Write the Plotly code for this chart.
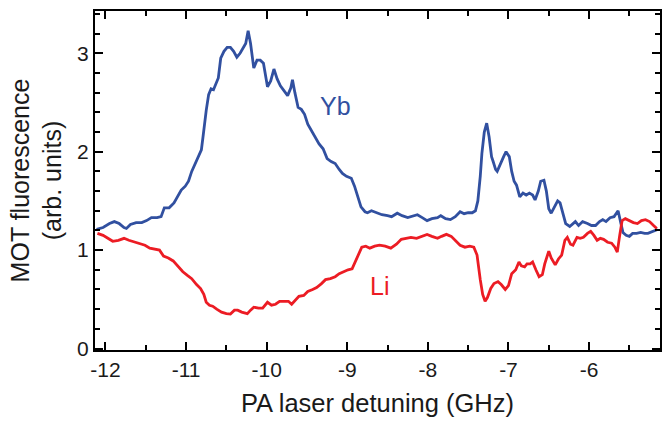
import plotly.graph_objects as go

# ---- data ----
yb_x = [-12.11, -12.03, -11.95, -11.89, -11.83, -11.77, -11.74, -11.69, -11.62, -11.55,
        -11.49, -11.43, -11.36, -11.31, -11.27, -11.21, -11.15, -11.10, -11.06, -11.01,
        -10.97, -10.93, -10.89, -10.85, -10.81, -10.79, -10.77, -10.75, -10.72, -10.69,
        -10.66, -10.63, -10.60, -10.57, -10.53, -10.49, -10.45, -10.41, -10.37, -10.33,
        -10.29, -10.26, -10.23, -10.20, -10.16, -10.12, -10.08, -10.04, -9.99, -9.95,
        -9.91, -9.87, -9.83, -9.79, -9.74, -9.70, -9.68, -9.65, -9.61, -9.57,
        -9.53, -9.49, -9.45, -9.40, -9.35, -9.30, -9.25, -9.20, -9.15, -9.10,
        -9.06, -9.01, -8.95, -8.91, -8.87, -8.83, -8.78, -8.75, -8.70, -8.64,
        -8.57, -8.50, -8.45, -8.38, -8.32, -8.25, -8.18, -8.13, -8.07, -8.01,
        -7.95, -7.88, -7.84, -7.78, -7.72, -7.66, -7.60, -7.55, -7.50, -7.45,
        -7.41, -7.38, -7.35, -7.33, -7.30, -7.27, -7.24, -7.21, -7.19, -7.16,
        -7.14, -7.10, -7.06, -7.03, -6.99, -6.96, -6.93, -6.90, -6.86, -6.82,
        -6.78, -6.74, -6.70, -6.67, -6.63, -6.60, -6.56, -6.53, -6.50, -6.47,
        -6.43, -6.39, -6.36, -6.33, -6.29, -6.24, -6.20, -6.17, -6.13, -6.08,
        -6.02, -5.97, -5.92, -5.87, -5.83, -5.79, -5.74, -5.69, -5.64, -5.61,
        -5.58, -5.54, -5.50, -5.46, -5.41, -5.36, -5.31, -5.27, -5.22, -5.15]
yb_y = [1.21, 1.23, 1.27, 1.29, 1.27, 1.23, 1.22, 1.26, 1.28, 1.28,
        1.30, 1.33, 1.33, 1.34, 1.43, 1.43, 1.48, 1.55, 1.61, 1.65,
        1.70, 1.80, 1.87, 1.95, 2.02, 2.15, 2.30, 2.42, 2.58, 2.64,
        2.63, 2.70, 2.75, 2.95, 3.02, 3.06, 3.06, 3.02, 2.96, 3.00,
        3.06, 3.10, 3.23, 3.10, 2.85, 2.93, 2.93, 2.90, 2.66, 2.72,
        2.84, 2.74, 2.67, 2.63, 2.57, 2.65, 2.73, 2.60, 2.45, 2.43,
        2.38, 2.28, 2.22, 2.15, 2.08, 2.03, 1.93, 1.90, 1.88, 1.82,
        1.78, 1.75, 1.73, 1.65, 1.55, 1.44, 1.39, 1.38, 1.40, 1.38,
        1.36, 1.35, 1.34, 1.375, 1.35, 1.33, 1.35, 1.36, 1.33, 1.30,
        1.32, 1.33, 1.35, 1.32, 1.31, 1.34, 1.39, 1.37, 1.38, 1.38,
        1.40, 1.50, 1.75, 1.98, 2.20, 2.29, 2.15, 1.95, 1.90, 1.82,
        1.80, 1.88, 1.95, 2.00, 1.95, 1.80, 1.70, 1.66, 1.54, 1.58,
        1.56, 1.58, 1.56, 1.51, 1.60, 1.70, 1.71, 1.60, 1.42, 1.375,
        1.44, 1.50, 1.48, 1.38, 1.27, 1.24, 1.27, 1.29, 1.25, 1.29,
        1.27, 1.25, 1.25, 1.29, 1.31, 1.29, 1.33, 1.34, 1.40, 1.30,
        1.18, 1.15, 1.14, 1.17, 1.17, 1.18, 1.17, 1.17, 1.19, 1.21]

li_x = [-12.10, -12.03, -11.97, -11.91, -11.84, -11.77, -11.71, -11.64, -11.58, -11.51,
        -11.45, -11.38, -11.33, -11.28, -11.22, -11.16, -11.10, -11.04, -10.98, -10.93,
        -10.87, -10.82, -10.78, -10.75, -10.71, -10.67, -10.62, -10.56, -10.50, -10.45,
        -10.40, -10.36, -10.31, -10.24, -10.20, -10.16, -10.10, -10.05, -9.99, -9.94,
        -9.89, -9.84, -9.78, -9.73, -9.69, -9.64, -9.60, -9.54, -9.49, -9.43,
        -9.38, -9.32, -9.27, -9.21, -9.15, -9.10, -9.05, -8.99, -8.94, -8.90,
        -8.86, -8.82, -8.77, -8.72, -8.66, -8.60, -8.53, -8.46, -8.39, -8.33,
        -8.27, -8.21, -8.14, -8.08, -8.01, -7.95, -7.88, -7.83, -7.77, -7.71,
        -7.66, -7.60, -7.54, -7.48, -7.43, -7.39, -7.35, -7.32, -7.29, -7.26,
        -7.22, -7.18, -7.13, -7.09, -7.04, -7.00, -6.96, -6.91, -6.87, -6.84,
        -6.80, -6.77, -6.73, -6.70, -6.66, -6.62, -6.58, -6.55, -6.50, -6.47,
        -6.42, -6.38, -6.34, -6.30, -6.27, -6.23, -6.20, -6.15, -6.11, -6.07,
        -6.02, -5.98, -5.94, -5.90, -5.86, -5.82, -5.77, -5.72, -5.68, -5.65,
        -5.62, -5.59, -5.55, -5.50, -5.45, -5.40, -5.35, -5.30, -5.25, -5.20,
        -5.16]
li_y = [1.17, 1.15, 1.12, 1.09, 1.10, 1.12, 1.10, 1.08, 1.07, 1.05,
        1.02, 1.01, 1.00, 0.94, 0.92, 0.89, 0.83, 0.78, 0.74, 0.71,
        0.65, 0.61, 0.55, 0.47, 0.44, 0.43, 0.40, 0.37, 0.355, 0.35,
        0.39, 0.39, 0.37, 0.355, 0.39, 0.42, 0.41, 0.41, 0.47, 0.44,
        0.45, 0.48, 0.48, 0.48, 0.45, 0.50, 0.53, 0.54, 0.58, 0.60,
        0.62, 0.66, 0.70, 0.71, 0.73, 0.76, 0.78, 0.80, 0.81, 0.88,
        0.96, 1.03, 1.04, 1.02, 1.04, 1.05, 1.04, 1.02, 1.06, 1.11,
        1.12, 1.13, 1.12, 1.14, 1.16, 1.14, 1.12, 1.14, 1.16, 1.14,
        1.10, 1.05, 1.03, 1.04, 1.03, 0.95, 0.70, 0.55, 0.48, 0.52,
        0.61, 0.66, 0.68, 0.65, 0.60, 0.64, 0.76, 0.80, 0.88, 0.84,
        0.83, 0.86, 0.86, 0.88, 0.80, 0.73, 0.75, 0.86, 0.99, 0.92,
        0.85, 0.91, 0.95, 1.10, 1.13, 1.06, 1.05, 1.13, 1.12, 1.13,
        1.17, 1.19, 1.15, 1.10, 1.12, 1.11, 1.08, 1.07, 1.03, 0.98,
        1.15, 1.30, 1.32, 1.30, 1.28, 1.27, 1.30, 1.31, 1.29, 1.25,
        1.22]

x_ticks = [-12, -11, -10, -9, -8, -7, -6]
y_ticks = [0, 1, 2, 3]

BLUE = "#3150a0"
RED = "#ec1c24"
FONT = "Liberation Sans, Arial, Helvetica, sans-serif"
TXT = "#1a1a1a"

fig = go.Figure()
fig.add_trace(go.Scatter(x=yb_x, y=yb_y, mode="lines", name="Yb",
                         line=dict(color=BLUE, width=2.8)))
fig.add_trace(go.Scatter(x=li_x, y=li_y, mode="lines", name="Li",
                         line=dict(color=RED, width=2.8)))

fig.add_annotation(x=-9.14, y=2.46, text="Yb", showarrow=False,
                   font=dict(family=FONT, size=25, color=BLUE))
fig.add_annotation(x=-8.60, y=0.64, text="Li", showarrow=False,
                   font=dict(family=FONT, size=25, color=RED))

axis_common = dict(
    showline=True, linecolor="black", linewidth=2, mirror="ticks",
    ticks="inside", tickcolor="black", tickwidth=2, ticklen=8,
    showgrid=False, zeroline=False, automargin=False,
    tickfont=dict(family=FONT, size=21, color=TXT),
)

fig.update_layout(
    width=670, height=424,
    margin=dict(l=95, r=10, t=11, b=74),
    paper_bgcolor="white", plot_bgcolor="white",
    showlegend=False,
    xaxis=dict(range=[-12.13, -5.12], tickvals=x_ticks,
               ticktext=[str(v) for v in x_ticks],
               minor=dict(ticks="inside", dtick=0.5, tick0=-12, ticklen=5,
                          tickwidth=2, tickcolor="black", showgrid=False),
               title=dict(text="PA laser detuning (GHz)", standoff=14,
                          font=dict(family=FONT, size=25.5, color=TXT)),
               **axis_common),
    yaxis=dict(range=[-0.015, 3.43], tickvals=y_ticks,
               ticktext=[str(v) for v in y_ticks],
               minor=dict(ticks="inside", dtick=0.2, tick0=0, ticklen=5,
                          tickwidth=2, tickcolor="black", showgrid=False),
               title=dict(text="MOT fluorescence<br>(arb. units)", standoff=8,
                          font=dict(family=FONT, size=25, color=TXT)),
               **axis_common),
)

fig.write_html("out.html", config={"displayModeBar": False},
               post_script="document.body.style.margin='0';document.body.style.padding='0';")
